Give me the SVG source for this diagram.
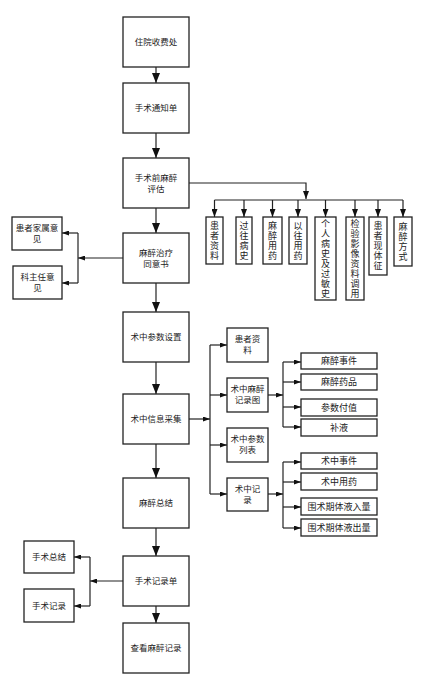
<svg xmlns="http://www.w3.org/2000/svg" width="424" height="689" viewBox="0 0 424 689">
<style>
.b{fill:#fff;stroke:#222;stroke-width:1.3}
.c{fill:none;stroke:#222;stroke-width:1.2}
text{font-family:"Noto Sans CJK SC","Liberation Serif",serif;fill:#222;text-anchor:middle}
.m{font-size:8.5px}
.s{font-size:9px}
.t{font-size:8.5px}
.v{font-size:9px;writing-mode:vertical-rl;letter-spacing:1px}
</style>
<defs>
<marker id="big" markerUnits="userSpaceOnUse" markerWidth="10" markerHeight="8" refX="10" refY="4" orient="auto"><path d="M0,0 L10,4 L0,8 z" fill="#111"/></marker>
<marker id="mid" markerUnits="userSpaceOnUse" markerWidth="8" markerHeight="6" refX="8" refY="3" orient="auto"><path d="M0,0 L8,3 L0,6 z" fill="#111"/></marker>
<marker id="sm" markerUnits="userSpaceOnUse" markerWidth="7" markerHeight="5" refX="7" refY="2.5" orient="auto"><path d="M0,0 L7,2.5 L0,5 z" fill="#111"/></marker>
</defs>
<rect width="424" height="689" fill="#fff"/>
<g id="connectors">
<path class="c" marker-end="url(#big)" d="M156,67 V83"/>
<path class="c" marker-end="url(#big)" d="M156,133 V158"/>
<path class="c" marker-end="url(#big)" d="M156,208 V233"/>
<path class="c" marker-end="url(#big)" d="M156,283 V312"/>
<path class="c" marker-end="url(#big)" d="M156,362 V394"/>
<path class="c" marker-end="url(#big)" d="M156,444 V478"/>
<path class="c" marker-end="url(#big)" d="M156,528 V556"/>
<path class="c" marker-end="url(#big)" d="M156,606 V623"/>
<path class="c" marker-end="url(#mid)" d="M189,183 H306 V199"/>
<path class="c" d="M214.5,200 H403"/>
<path class="c" marker-end="url(#mid)" d="M214.5,200 V217"/>
<path class="c" marker-end="url(#mid)" d="M244,200 V217"/>
<path class="c" marker-end="url(#mid)" d="M272.5,200 V217"/>
<path class="c" marker-end="url(#mid)" d="M298,200 V217"/>
<path class="c" marker-end="url(#mid)" d="M325.5,200 V217"/>
<path class="c" marker-end="url(#mid)" d="M355,200 V217"/>
<path class="c" marker-end="url(#mid)" d="M378,200 V217"/>
<path class="c" marker-end="url(#mid)" d="M403,200 V217"/>
<path class="c" marker-end="url(#sm)" d="M123,258 H78"/>
<path class="c" d="M78,233 V283"/>
<path class="c" marker-end="url(#sm)" d="M78,233 H62"/>
<path class="c" marker-end="url(#sm)" d="M78,283 H62"/>
<path class="c" marker-end="url(#sm)" d="M189,419 H210"/>
<path class="c" d="M210,345 V494"/>
<path class="c" marker-end="url(#sm)" d="M210,345 H227"/>
<path class="c" marker-end="url(#sm)" d="M210,395 H227"/>
<path class="c" marker-end="url(#sm)" d="M210,445 H227"/>
<path class="c" marker-end="url(#sm)" d="M210,494 H227"/>
<path class="c" marker-end="url(#sm)" d="M268,395 H283"/>
<path class="c" d="M283,362 V427"/>
<path class="c" marker-end="url(#sm)" d="M283,362 H301"/>
<path class="c" marker-end="url(#sm)" d="M283,382 H301"/>
<path class="c" marker-end="url(#sm)" d="M283,407 H301"/>
<path class="c" marker-end="url(#sm)" d="M283,427 H301"/>
<path class="c" marker-end="url(#sm)" d="M268,494 H283"/>
<path class="c" d="M283,462 V528"/>
<path class="c" marker-end="url(#sm)" d="M283,462 H301"/>
<path class="c" marker-end="url(#sm)" d="M283,482 H301"/>
<path class="c" marker-end="url(#sm)" d="M283,507 H301"/>
<path class="c" marker-end="url(#sm)" d="M283,528 H301"/>
<path class="c" marker-end="url(#sm)" d="M123,581 H90"/>
<path class="c" d="M90,557 V606"/>
<path class="c" marker-end="url(#sm)" d="M90,557 H74"/>
<path class="c" marker-end="url(#sm)" d="M90,606 H74"/>
</g>
<g id="n1"><rect class="b" x="123" y="17" width="66" height="50"/><text class="m" x="156" y="45">住院收费处</text></g>
<g id="n2"><rect class="b" x="123" y="83" width="66" height="50"/><text class="m" x="156" y="111">手术通知单</text></g>
<g id="n3"><rect class="b" x="123" y="158" width="66" height="50"/><text class="m" x="156" y="180.5"><tspan x="156">手术前麻醉</tspan><tspan x="156" dy="11">评估</tspan></text></g>
<g id="n4"><rect class="b" x="123" y="233" width="66" height="50"/><text class="m" x="156" y="255.5"><tspan x="156">麻醉治疗</tspan><tspan x="156" dy="11">同意书</tspan></text></g>
<g id="n5"><rect class="b" x="123" y="312" width="66" height="50"/><text class="m" x="156" y="340">术中参数设置</text></g>
<g id="n6"><rect class="b" x="123" y="394" width="66" height="50"/><text class="m" x="156" y="422">术中信息采集</text></g>
<g id="n7"><rect class="b" x="123" y="478" width="66" height="50"/><text class="m" x="156" y="506">麻醉总结</text></g>
<g id="n8"><rect class="b" x="123" y="556" width="66" height="50"/><text class="m" x="156" y="584">手术记录单</text></g>
<g id="n9"><rect class="b" x="123" y="623" width="66" height="50"/><text class="m" x="156" y="651">查看麻醉记录</text></g>
<g id="v1"><rect class="b" x="206" y="217" width="17" height="47"/><text class="v" x="214.5" y="241.5">患者资料</text></g>
<g id="v2"><rect class="b" x="236" y="217" width="16" height="47"/><text class="v" x="244" y="241.5">过往病史</text></g>
<g id="v3"><rect class="b" x="263" y="217" width="19" height="47"/><text class="v" x="272.5" y="241.5">麻醉用药</text></g>
<g id="v4"><rect class="b" x="289" y="217" width="18" height="47"/><text class="v" x="298" y="241.5">以往用药</text></g>
<g id="v5"><rect class="b" x="315" y="217" width="21" height="83"/><text class="v" x="325.5" y="259">个人病史及过敏史</text></g>
<g id="v6"><rect class="b" x="346" y="217" width="18" height="83"/><text class="v" x="355" y="259">检验影像资料调用</text></g>
<g id="v7"><rect class="b" x="369" y="217" width="18" height="58"/><text class="v" x="378" y="246.5">患者现体征</text></g>
<g id="v8"><rect class="b" x="394" y="217" width="18" height="49"/><text class="v" x="403" y="242">麻醉方式</text></g>
<g id="l1"><rect class="b" x="12" y="217" width="50" height="33"/><text class="t" x="37" y="231"><tspan x="37">患者家属意</tspan><tspan x="37" dy="11">见</tspan></text></g>
<g id="l2"><rect class="b" x="13" y="266" width="49" height="33"/><text class="t" x="37.5" y="280"><tspan x="37.5">科主任意</tspan><tspan x="37.5" dy="11">见</tspan></text></g>
<g id="s1"><rect class="b" x="227" y="328" width="41" height="34"/><text class="t" x="247.5" y="342"><tspan x="247.5">患者资</tspan><tspan x="247.5" dy="11">料</tspan></text></g>
<g id="s2"><rect class="b" x="227" y="378" width="41" height="34"/><text class="t" x="247.5" y="392"><tspan x="247.5">术中麻醉</tspan><tspan x="247.5" dy="11">记录图</tspan></text></g>
<g id="s3"><rect class="b" x="227" y="428" width="41" height="34"/><text class="t" x="247.5" y="442"><tspan x="247.5">术中参数</tspan><tspan x="247.5" dy="11">列表</tspan></text></g>
<g id="s4"><rect class="b" x="227" y="478" width="41" height="33"/><text class="t" x="247.5" y="491.5"><tspan x="247.5">术中记</tspan><tspan x="247.5" dy="11">录</tspan></text></g>
<g id="r1"><rect class="b" x="301" y="353" width="76" height="16"/><text class="s" x="339" y="364">麻醉事件</text></g>
<g id="r2"><rect class="b" x="301" y="374" width="76" height="16"/><text class="s" x="339" y="385">麻醉药品</text></g>
<g id="r3"><rect class="b" x="301" y="399" width="76" height="17"/><text class="s" x="339" y="410.5">参数付值</text></g>
<g id="r4"><rect class="b" x="301" y="419" width="76" height="17"/><text class="s" x="339" y="430.5">补液</text></g>
<g id="r5"><rect class="b" x="301" y="453" width="76" height="16"/><text class="s" x="339" y="464">术中事件</text></g>
<g id="r6"><rect class="b" x="301" y="473" width="76" height="17"/><text class="s" x="339" y="484.5">术中用药</text></g>
<g id="r7"><rect class="b" x="301" y="498" width="76" height="17"/><text class="s" x="339" y="509.5">围术期体液入量</text></g>
<g id="r8"><rect class="b" x="301" y="519" width="76" height="17"/><text class="s" x="339" y="530.5">围术期体液出量</text></g>
<g id="b1"><rect class="b" x="24" y="541" width="50" height="32"/><text class="m" x="49" y="560">手术总结</text></g>
<g id="b2"><rect class="b" x="24" y="589" width="50" height="33"/><text class="m" x="49" y="608.5">手术记录</text></g>
</svg>
